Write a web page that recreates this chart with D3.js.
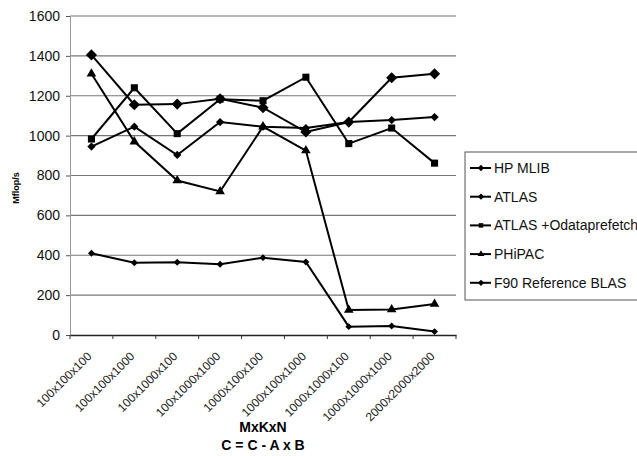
<!DOCTYPE html>
<html>
<head>
<meta charset="utf-8">
<script src="https://cdn.jsdelivr.net/npm/d3@7"></script>
<style>
  body { margin: 0; background: #fff; }
  svg { font-family: "Liberation Sans", Arial, sans-serif; display: block; }
</style>
</head>
<body>
<div id="chart"></div>
<script>
const sizes = ["100x100x100", "100x100x1000", "100x1000x100", "100x1000x1000", "1000x100x100",
  "1000x100x1000", "1000x1000x100", "1000x1000x1000", "2000x2000x2000"];

const hpMlib = [1405, 1155, 1158, 1185, 1140, 1018, 1068, 1290, 1310];
const atlas = [945, 1045, 903, 1068, 1045, 1038, 1068, 1078, 1093];
const atlasPrefetch = [983, 1240, 1010, 1183, 1175, 1293, 960, 1038, 862];
const phipac = [1310, 970, 775, 720, 1045, 925, 125, 128, 155];
const f90 = [410, 362, 365, 355, 388, 366, 42, 45, 17];

const yTicks = [0, 200, 400, 600, 800, 1000, 1200, 1400, 1600];

const series = [
  { name: "HP MLIB", values: hpMlib, marker: "diamond", size: 62 },
  { name: "ATLAS", values: atlas, marker: "diamond", size: 34 },
  { name: "ATLAS +Odataprefetch", values: atlasPrefetch, marker: "square", size: 50 },
  { name: "PHiPAC", values: phipac, marker: "triangle", size: 40 },
  { name: "F90 Reference BLAS", values: f90, marker: "diamond", size: 24 }
];

const width = 637, height = 456;
const svg = d3.select('#chart').append('svg')
  .attr('width', width)
  .attr('height', height);

const x = d3.scaleBand().domain(sizes).range([70, 456]).padding(0);
const y = d3.scaleLinear().domain([0, 1600]).range([335, 16]);
const cx = d => x(d) + x.bandwidth() / 2;

// diamond = square turned 45 degrees, like the spreadsheet markers
const markerPath = (m, size) => d3.symbol(m === 'triangle' ? d3.symbolTriangle : d3.symbolSquare, size)();
const markerRot = m => m === 'diamond' ? ' rotate(45)' : '';

// gridlines
svg.append('g')
  .selectAll('line')
  .data(yTicks.filter(t => t > 0))
  .join('line')
    .attr('x1', 70).attr('x2', 456)
    .attr('y1', d => y(d)).attr('y2', d => y(d))
    .attr('stroke', '#777')
    .attr('stroke-width', 1.2);

// y axis
const yAxis = svg.append('g')
  .attr('transform', 'translate(70,0)')
  .call(d3.axisLeft(y).tickValues(yTicks).tickSize(4).tickPadding(6).tickFormat(d3.format('d')));
yAxis.select('.domain').attr('stroke', '#999');
yAxis.selectAll('.tick line').attr('stroke', '#555');
yAxis.selectAll('text').attr('font-size', 14).attr('fill', '#111');

// x axis
const xAxis = svg.append('g')
  .attr('transform', `translate(0,${y(0)})`)
  .call(d3.axisBottom(x).tickSize(0).tickFormat(''));
xAxis.select('.domain').attr('stroke', '#222').attr('stroke-width', 1.5);

svg.append('g')
  .selectAll('line')
  .data(d3.range(sizes.length + 1))
  .join('line')
    .attr('x1', i => 70 + i * x.bandwidth()).attr('x2', i => 70 + i * x.bandwidth())
    .attr('y1', y(0)).attr('y2', y(0) + 4)
    .attr('stroke', '#333');

svg.append('g')
  .selectAll('text')
  .data(sizes)
  .join('text')
    .attr('transform', d => `translate(${cx(d) + 1},${y(0) + 22}) rotate(-45)`)
    .attr('text-anchor', 'end')
    .attr('font-size', 12)
    .attr('fill', '#222')
    .text(d => d);

// axis titles
svg.append('text')
  .attr('x', 263).attr('y', 432)
  .attr('text-anchor', 'middle')
  .attr('font-size', 14).attr('font-weight', 'bold')
  .text('MxKxN');
svg.append('text')
  .attr('x', 263).attr('y', 450)
  .attr('text-anchor', 'middle')
  .attr('font-size', 14).attr('font-weight', 'bold')
  .text('C = C - A x B');

svg.append('text')
  .attr('transform', 'translate(19,188) rotate(-90)')
  .attr('text-anchor', 'middle')
  .attr('font-size', 9).attr('font-weight', 'bold')
  .text('Mflop/s');

// lines and markers
const line = d3.line()
  .x((d, i) => cx(sizes[i]))
  .y(d => y(d));

const seriesGroup = svg.selectAll('.series')
  .data(series)
  .join('g')
    .attr('class', 'series');

seriesGroup.append('path')
  .attr('d', d => line(d.values))
  .attr('fill', 'none')
  .attr('stroke', '#000')
  .attr('stroke-width', 2);

seriesGroup.each(function(s) {
  d3.select(this).selectAll('path.mark')
    .data(s.values)
    .join('path')
      .attr('class', 'mark')
      .attr('transform', (d, i) => `translate(${cx(sizes[i])},${y(d)})${markerRot(s.marker)}`)
      .attr('d', markerPath(s.marker, s.size))
      .attr('fill', '#000');
});

// legend
const legend = svg.append('g');
legend.append('rect')
  .attr('x', 465).attr('y', 152)
  .attr('width', 200).attr('height', 148)
  .attr('fill', '#fff')
  .attr('stroke', '#555');

const legendItems = legend.selectAll('g')
  .data(series)
  .join('g')
    .attr('transform', (d, i) => `translate(470,${168 + i * 28.7})`);

legendItems.append('line')
  .attr('x1', 0).attr('x2', 21)
  .attr('stroke', '#000').attr('stroke-width', 2);

legendItems.append('path')
  .attr('transform', d => `translate(11,0)${markerRot(d.marker)}`)
  .attr('d', d => markerPath(d.marker, 20))
  .attr('fill', '#000');

legendItems.append('text')
  .attr('x', 24)
  .attr('dy', '0.35em')
  .attr('font-size', 14)
  .attr('fill', '#111')
  .text(d => d.name);
</script>
</body>
</html>
